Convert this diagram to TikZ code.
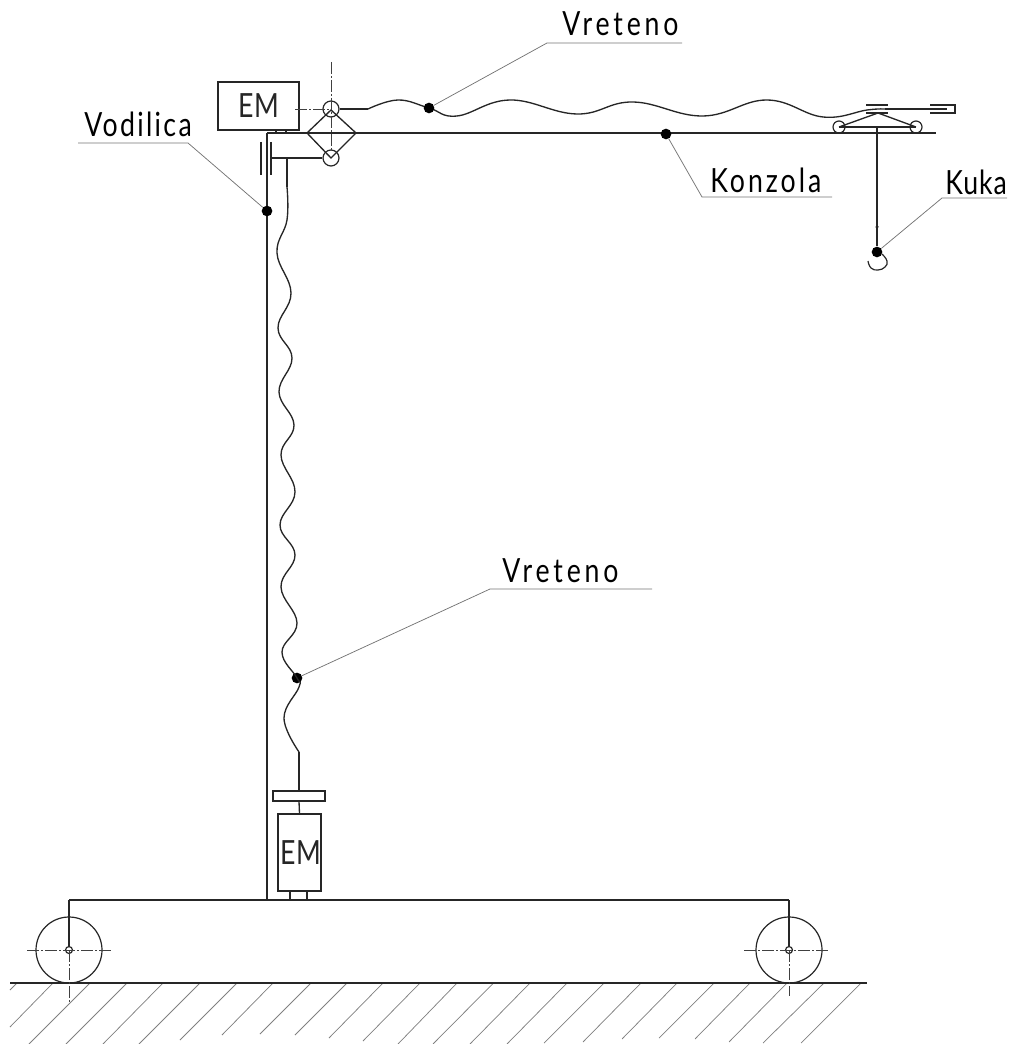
\documentclass[tikz,border=0pt]{standalone}
\usepackage{fontspec}
\setmainfont{Lato}
\newfontfamily\lbl[LetterSpace=9,FakeStretch=0.8]{Lato}
\newfontfamily\lblw[LetterSpace=11.5,FakeStretch=0.8]{Lato}
\newfontfamily\lbln[LetterSpace=7,FakeStretch=0.8]{Lato}
\newfontfamily\lblk[LetterSpace=3,FakeStretch=0.8]{Lato}
\newfontfamily\lble[LetterSpace=2,FakeStretch=0.8]{Lato}
\tikzset{
  heavy/.style={line width=1pt,black!85},
  mid/.style={line width=0.9pt,black!85},
  thinline/.style={line width=0.55pt,black!55},
  axis/.style={line width=0.5pt,black!75,dash pattern=on 9pt off 1.5pt on 1.5pt off 1.5pt},
  hatchline/.style={line width=0.55pt,black!50},
  blob/.style={circle,fill=black,inner sep=0pt,minimum size=8pt},
  ring/.style={circle,draw,mid,inner sep=0pt},
  emtext/.style={font=\lble\fontsize{25}{25}\selectfont},
  tag/.style={font=\lbl\fontsize{25}{25}\selectfont,anchor=base west,inner sep=0pt},
  tagw/.style={tag,font=\lblw\fontsize{25}{25}\selectfont},
  tagn/.style={tag,font=\lbln\fontsize{25}{25}\selectfont},
  tagk/.style={tag,font=\lblk\fontsize{25}{25}\selectfont},
  spindle/.style={line width=1pt,black!85},
}
\begin{document}
\begin{tikzpicture}[x=0.75pt,y=-0.75pt]
\useasboundingbox (0,0) rectangle (1020,1044);
% frame
\coordinate (gt) at (267,133);
\coordinate (gb) at (267,900);
\coordinate (be) at (936,133);
\coordinate (bl) at (69,900);
\coordinate (br) at (789,900);
\draw[heavy] (gt) -- (gb);
\draw[heavy] (gt) -- (be);
\draw[heavy] (bl) -- (br);
% ground
\coordinate (g1) at (10,983);
\coordinate (g2) at (867,983);
\foreach \t/\bx/\by in {17/10/990,53/10/1027,90/29/1044,127/66/1044,163/103/1044,200/139/1044,237/180/1040,273/222/1035,311/260/1034,347/295/1035,383/329/1038,420/363/1041,457/398/1044,493.5/433/1044,530/470/1044,567/507/1044,604/544/1043,641/583/1042,677/622/1039,714/659/1038,750/695/1039,787/729/1042,824/763/1043,861/801/1043}
  \draw[hatchline] (\t,983) -- (\bx,\by);
\draw[heavy] (g1) -- (g2);
% wheels
\node[ring,minimum size=49.5pt] (wl) at (69,950) {};
\node[ring,minimum size=49.5pt] (wr) at (789,950) {};
\node[ring,minimum size=5.2pt] (hl) at (69,950) {};
\node[ring,minimum size=5.2pt] (hr) at (789,950) {};
\draw[heavy] (bl) -- (hl.north);
\draw[heavy] (br) -- (hr.north);
\draw[axis] (27,950) -- (113,950);
\draw[axis] (744,950) -- (830,950);
\draw[axis] (hl.center) -- (69,1003);
\draw[axis] (hr.center) -- (789,996);
% top motor
\node[draw,mid,minimum width=60.75pt,minimum height=36pt,inner sep=0pt,emtext] (em1) at (258.5,106) {EM\hspace{7pt}};
\draw[mid] (276,130) -- (276,133) (286,130) -- (286,133);
% gear
\node[ring,minimum size=12pt] (c1) at (331,109) {};
\node[ring,minimum size=12pt] (c2) at (331,158) {};
\coordinate (da) at (331,110);
\coordinate (db) at (356,133);
\coordinate (dc) at (331,158);
\coordinate (dd) at (307,133);
\draw[heavy] (da) -- (db) -- (dc) -- (dd) -- cycle;
\draw[axis] (331,62) -- (331,150);
\draw[axis] (295,109) -- (c1.center);
% guide
\draw[mid] (261,142) -- (261,175);
\draw[mid] (271,142) -- (271,175);
\coordinate (vt) at (272,158);
\draw[heavy] (vt) -- (c2.west);
% horizontal spindle
\draw[spindle] (c1.east) -- (368,109);
\draw[spindle] plot[smooth,tension=0.7] coordinates {(368,109) (398,100) (429,108) (457,116) (510,100) (577,114) (633,102) (703,116) (767,100) (823,117) (867,110) (885,109)};
\coordinate (sw) at (885,109);
\coordinate (se) at (947,109);
\draw[spindle] (sw) -- (se);
% trolley
\draw[mid] (866,105) -- (888,105) (866,113) -- (888,113);
\draw[mid] (930,105) -- (955,105) -- (955,113) -- (930,113);
\node[ring,minimum size=9pt] (t1) at (839,127) {};
\node[ring,minimum size=9pt] (t2) at (916,127) {};
\coordinate (ta) at (878,113);
\coordinate (tm) at (877,127);
\draw[heavy] (t1.center) -- (ta) -- (t2.center);
\draw[mid] (t1.center) -- (t2.center);
% hook
\node[blob] (dk) at (877,252) {};
\node[circle,fill=black,inner sep=0pt,minimum size=2.6pt] (ds) at (877,227) {};
\draw[heavy] (tm) -- (dk);
\draw[mid] plot[smooth,tension=0.8] coordinates {(882,254) (887,261) (885,267) (878,270) (871,268) (868,261)};
% vertical spindle
\node[blob] (dv2) at (297,678) {};
\node[draw,mid,minimum width=39pt,minimum height=7.5pt,inner sep=0pt] (pl) at (299,796) {};
\node[draw,mid,minimum width=27.75pt,minimum height=57.75pt,inner sep=0pt,emtext] (em2) at (299.5,852.5) {\hspace{1.5pt}EM};
\draw[spindle] (287,158) -- (287,187);
\draw[spindle] plot[smooth,tension=0.7] coordinates {(287,187) (287,220) (277,253) (291,293) (278,328) (292,358) (279,392) (294,425) (281,455) (295,492) (280,525) (295,555) (281,587) (297,623) (282,652) (297,678) (299,687) (284,718) (299,752)};
\coordinate (sb) at (299,752);
\draw[spindle] (sb) -- (pl.north);
\draw[spindle] (pl.south) -- (em2.north);
\draw[mid] (290,891) -- (290,900) (307,891) -- (307,900);
% dots and leaders
\node[blob] (dv) at (267,211) {};
\node[blob] (ds1) at (429,108) {};
\node[blob] (dz) at (666,134) {};
\coordinate (u1a) at (547,43);  \coordinate (u1b) at (682,43);
\coordinate (u2a) at (490,589); \coordinate (u2b) at (652,589);
\coordinate (u3a) at (702,197); \coordinate (u3b) at (832,197);
\coordinate (u4a) at (78,143);  \coordinate (u4b) at (188,143);
\coordinate (u5a) at (942,198); \coordinate (u5b) at (1007,198);
\draw[thinline] (ds1) -- (u1a) -- (u1b);
\draw[thinline] (dv2) -- (u2a) -- (u2b);
\draw[thinline] (dz) -- (u3a) -- (u3b);
\draw[thinline] (dv) -- (u4b) -- (u4a);
\draw[thinline] (dk) -- (u5a) -- (u5b);
% labels
\node[tagw] (l1) at (562,36) {Vreteno};
\node[tagw] (l2) at (502,582) {Vreteno};
\node[tag] (l3) at (710,193) {Konzola};
\node[tagn] (l4) at (84,137) {Vodilica};
\node[tagk] (l5) at (945,195) {Kuka};
\end{tikzpicture}
\end{document}
